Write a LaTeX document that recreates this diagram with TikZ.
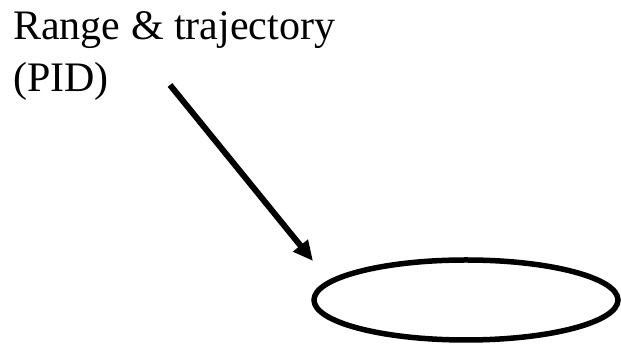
\documentclass[tikz,border=0pt]{standalone}
\usepackage{fontspec}
\setmainfont{Liberation Serif}
\usepackage{tikz}
\usetikzlibrary{arrows.meta, positioning, shapes.geometric}

\begin{document}
\begin{tikzpicture}[x=1pt, y=1pt]

\useasboundingbox (0,0) rectangle (621,344);

% Label (base = last line)
\node[anchor=base west, align=left, inner sep=0pt,
      font=\fontsize{42}{52}\selectfont] (label) at (13,252)
{Range \& trajectory\\(PID)};

% Ellipse
\node[ellipse, draw, line width=5.5pt, minimum width=304, minimum height=80,
      inner sep=0pt] (blob) at (466,44) {};

% Arrow
\coordinate (start) at (170,259);
\coordinate (tip) at (313,83);
\draw[line width=6pt, -{Triangle[length=20pt, width=18pt]}] (start) -- (tip);

\end{tikzpicture}
\end{document}
